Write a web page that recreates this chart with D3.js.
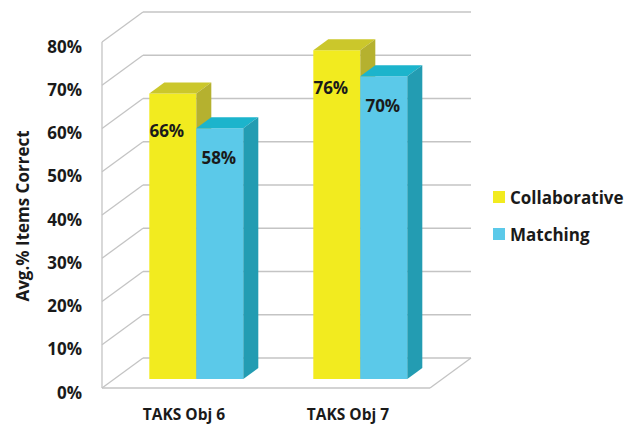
<!DOCTYPE html>
<html>
<head>
<meta charset="utf-8">
<script src="https://cdn.jsdelivr.net/npm/d3@7"></script>
<style>
  html, body { margin: 0; padding: 0; background: #fff; }
  svg { display: block; }
  text { font-family: "Open Sans", sans-serif; font-weight: bold; fill: #1a1a1a; }
</style>
</head>
<body>
<svg id="chart" width="634" height="425"></svg>
<script>
const categories = ["TAKS Obj 6", "TAKS Obj 7"];
const seriesNames = ["Collaborative", "Matching"];
const collaborative = [66, 76];
const matching = [58, 70];
const yTicks = [0, 10, 20, 30, 40, 50, 60, 70, 80];
const yTitle = "Avg.% Items Correct";

const seriesValues = [collaborative, matching];
const colors = [
  { front: "#F2EB1F", top: "#CBC72B", side: "#B5B12F" },
  { front: "#5BC9E9", top: "#1CB4CC", side: "#239CB2" }
];
const labelOffset = [{ dx: -6, dy: 37 }, { dx: -1, dy: 29 }];

const svg = d3.select("#chart");
const depthX = 41, depthY = -30;
const y = d3.scaleLinear().domain([0, 80]).range([388, 42]);
const x = d3.scaleBand().domain(categories).range([102, 430]).paddingInner(0).paddingOuter(0);
const xs = d3.scaleBand().domain(seriesNames).range([0, 94]);
const P = (px, v, d) => [px + depthX * d, y(v) + depthY * d];

const grid = "#C4C4C4";
const wall = svg.append("g").attr("stroke", grid).attr("stroke-width", 1.3).attr("fill", "none");
const x0 = x.range()[0], x1 = x.range()[1];
yTicks.forEach(v => {
  const a = P(x0, v, 1), b = P(x1, v, 1);
  wall.append("line").attr("x1", a[0]).attr("y1", a[1]).attr("x2", b[0]).attr("y2", b[1]);
  const c = P(x0, v, 0);
  wall.append("line").attr("x1", c[0]).attr("y1", c[1]).attr("x2", a[0]).attr("y2", a[1]);
});
{
  const a = P(x0, 0, 0), b = P(x0, 80, 0);
  wall.append("line").attr("x1", a[0]).attr("y1", a[1]).attr("x2", b[0]).attr("y2", b[1]);
  const c = P(x1, 0, 0), e = P(x1, 0, 1);
  wall.append("line").attr("x1", a[0]).attr("y1", a[1]).attr("x2", c[0]).attr("y2", c[1]);
  wall.append("line").attr("x1", c[0]).attr("y1", c[1]).attr("x2", e[0]).attr("y2", e[1]);
}

const dFront = 0.3, dBack = 0.666;
const poly = pts => pts.map(p => p.join(",")).join(" ");
const bars = svg.append("g");
categories.forEach((cat, ci) => {
  const gx = x(cat) + (x.bandwidth() - 94) / 2;
  seriesNames.forEach((s, si) => {
    const v = seriesValues[si][ci];
    const L = gx + xs(s), R = L + xs.bandwidth();
    const fl0 = P(L, 0, dFront), fr0 = P(R, 0, dFront), flv = P(L, v, dFront), frv = P(R, v, dFront);
    const blv = P(L, v, dBack), brv = P(R, v, dBack), br0 = P(R, 0, dBack);
    bars.append("polygon").attr("points", poly([fl0, fr0, frv, flv])).attr("fill", colors[si].front);
    bars.append("polygon").attr("points", poly([flv, frv, brv, blv])).attr("fill", colors[si].top);
    bars.append("polygon").attr("points", poly([fr0, br0, brv, frv])).attr("fill", colors[si].side);
    bars.append("text")
      .attr("x", (fl0[0] + fr0[0]) / 2 + labelOffset[si].dx)
      .attr("y", flv[1] + labelOffset[si].dy)
      .attr("text-anchor", "middle").attr("dominant-baseline", "central")
      .attr("font-size", 17).text(v + "%");
  });
});

svg.append("g").selectAll("text").data(yTicks).join("text")
  .attr("x", 82).attr("y", d => y(d) + 4)
  .attr("text-anchor", "end").attr("dominant-baseline", "central")
  .attr("font-size", 17).text(d => d + "%");

svg.append("g").selectAll("text").data(categories).join("text")
  .attr("x", d => x(d) + x.bandwidth() / 2).attr("y", 420)
  .attr("text-anchor", "middle")
  .attr("font-size", 15.5).text(d => d);

svg.append("text")
  .attr("transform", "translate(22,216) rotate(-90)")
  .attr("text-anchor", "middle").attr("dominant-baseline", "central")
  .attr("font-size", 17).text(yTitle);

const leg = svg.append("g");
seriesNames.forEach((s, i) => {
  const ly = [197, 234][i];
  leg.append("rect").attr("x", 493).attr("y", ly - 6).attr("width", 12).attr("height", 12).attr("fill", colors[i].front);
  leg.append("text").attr("x", 510).attr("y", ly).attr("dominant-baseline", "central")
    .attr("font-size", 17).text(s);
});
</script>
</body>
</html>
